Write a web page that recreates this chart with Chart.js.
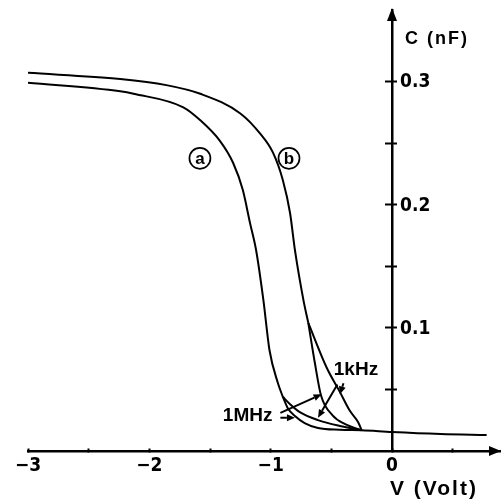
<!DOCTYPE html>
<html>
<head>
<meta charset="utf-8">
<script src="https://cdn.jsdelivr.net/npm/chart.js@4.4.0/dist/chart.umd.min.js"></script>
<style>
  html, body { margin: 0; padding: 0; background: #fff; }
</style>
</head>
<body>
<canvas id="cv" width="502" height="500"></canvas>
<script>
// curve (a): common part down to where the 1 MHz / 1 kHz traces split
const aVolt = [-3.0, -2.24, -2.13, -1.72, -1.58, -1.42, -1.31, -1.23, -1.17, -1.12, -1.06, -1.01, -0.94, -0.90];
const aCap  = [0.299, 0.292, 0.290, 0.279, 0.2685, 0.252, 0.234, 0.212, 0.185, 0.163, 0.1225, 0.082, 0.055, 0.044];
// (a) 1 MHz branch, carries on into the common tail
const aMHzVolt = [-0.90, -0.86, -0.80, -0.72, -0.61, -0.43, -0.25, 0.0, 0.40, 0.78];
const aMHzCap  = [0.044, 0.035, 0.0284, 0.0227, 0.0187, 0.0172, 0.0168, 0.0154, 0.0138, 0.013];
// (a) 1 kHz branch
const aKHzVolt = [-0.90, -0.84, -0.76, -0.61, -0.43, -0.25];
const aKHzCap  = [0.044, 0.038, 0.0316, 0.0251, 0.0203, 0.0168];

// curve (b)
const bVolt = [-3.0, -2.24, -1.86, -1.58, -1.25, -1.09, -0.98, -0.90, -0.84, -0.80, -0.73, -0.69];
const bCap  = [0.307, 0.302, 0.297, 0.290, 0.274, 0.258, 0.242, 0.220, 0.193, 0.163, 0.1225, 0.104];
const bMHzVolt = [-0.69, -0.635, -0.585, -0.49, -0.39, -0.25];
const bMHzCap  = [0.104, 0.071, 0.045, 0.029, 0.022, 0.0168];
const bKHzVolt = [-0.69, -0.54, -0.43, -0.35, -0.28, -0.25];
const bKHzCap  = [0.104, 0.068, 0.048, 0.033, 0.0235, 0.0168];

// axis ticks
const xMin = -3, xMax = 0.89, xStep = 0.5;
const yMin = 0, yMax = 0.358, yStep = 0.05, yTop = 0.3;

const tickFont = { family: "'Liberation Sans Narrow', 'DejaVu Sans Condensed', sans-serif", size: 19, weight: 'bold' };

function pts(v, c) {
  return v.map((x, i) => ({ x: x, y: c[i] }));
}
function curve(v, c) {
  return {
    data: pts(v, c),
    borderColor: '#000',
    borderWidth: 2,
    pointRadius: 0,
    fill: false,
    cubicInterpolationMode: 'monotone'
  };
}
function keepTicks(scale) {
  scale.ticks = scale.ticks.filter(t => t.value > 0.01 && t.value < yTop + 0.01);
}

const annotate = {
  id: 'annotate',
  afterDraw(chart) {
    const { ctx, chartArea } = chart;
    const xs = chart.scales.x, ys = chart.scales.y;
    const px = v => xs.getPixelForValue(v);
    const py = c => ys.getPixelForValue(c);
    const x0 = px(0), y0 = py(0);

    ctx.save();
    ctx.fillStyle = '#000';
    ctx.strokeStyle = '#000';

    function tri(ax, ay, bx, by, cx, cy) {
      ctx.beginPath();
      ctx.moveTo(ax, ay); ctx.lineTo(bx, by); ctx.lineTo(cx, cy);
      ctx.closePath();
      ctx.fill();
    }
    // axis arrowheads
    tri(x0, chartArea.top - 2, x0 - 5, chartArea.top + 11, x0 + 5, chartArea.top + 11);
    tri(chartArea.right + 1, y0, chartArea.right - 11, y0 - 5, chartArea.right - 11, y0 + 5);

    // y tick labels sit to the right of the axis
    ctx.textBaseline = 'middle';
    ctx.textAlign = 'left';
    ctx.font = `${tickFont.weight} ${tickFont.size}px ${tickFont.family}`;
    ys.ticks.forEach(t => {
      if (t.label) ctx.fillText(t.label, x0 + 8, py(t.value) + 1);
    });

    // axis titles
    ctx.font = "bold 18px 'Liberation Sans', Arial, sans-serif";
    ctx.letterSpacing = '2px';
    ctx.fillText('C (nF)', x0 + 13, chartArea.top + 29);
    ctx.font = "bold 21px 'Liberation Sans', Arial, sans-serif";
    ctx.letterSpacing = '2px';
    ctx.fillText('V (Volt)', x0 - 2, y0 + 38);
    ctx.letterSpacing = '0px';

    // circled curve names
    ctx.lineWidth = 1.7;
    ctx.textAlign = 'center';
    ctx.font = "bold 17px 'Liberation Sans', Arial, sans-serif";
    [['a', -1.583, 0.2376], ['b', -0.849, 0.2376]].forEach(([t, v, c]) => {
      ctx.beginPath();
      ctx.arc(px(v), py(c), 10.5, 0, Math.PI * 2);
      ctx.stroke();
      ctx.fillText(t, px(v), py(c) + 1);
    });

    // frequency labels
    ctx.font = "bold 19px 'Liberation Sans', Arial, sans-serif";
    ctx.fillText('1kHz', px(-0.297), py(0.066));
    ctx.fillText('1MHz', px(-1.19), py(0.029));

    // arrows
    ctx.lineWidth = 2;
    [
      [-0.92, 0.031, -0.58, 0.046],
      [-0.92, 0.027, -0.80, 0.027],
      [-0.45, 0.054, -0.61, 0.027],
      [-0.40, 0.055, -0.43, 0.046]
    ].forEach(([v1, c1, v2, c2]) => {
      const x1 = px(v1), y1 = py(c1), x2 = px(v2), y2 = py(c2);
      const ang = Math.atan2(y2 - y1, x2 - x1);
      const hl = 8, hw = 3.5;
      const bx = x2 - hl * Math.cos(ang), by = y2 - hl * Math.sin(ang);
      ctx.beginPath();
      ctx.moveTo(x1, y1); ctx.lineTo(bx, by);
      ctx.stroke();
      tri(x2, y2,
        bx + hw * Math.sin(ang), by - hw * Math.cos(ang),
        bx - hw * Math.sin(ang), by + hw * Math.cos(ang));
    });
    ctx.restore();
  }
};

new Chart(document.getElementById('cv'), {
  type: 'line',
  data: {
    datasets: [
      curve(aVolt, aCap),
      curve(aMHzVolt, aMHzCap),
      curve(aKHzVolt, aKHzCap),
      curve(bVolt, bCap),
      curve(bMHzVolt, bMHzCap),
      curve(bKHzVolt, bKHzCap)
    ]
  },
  options: {
    responsive: false,
    animation: false,
    layout: { padding: { left: 28, right: 2, top: 10, bottom: 49 } },
    plugins: { legend: { display: false }, tooltip: { enabled: false } },
    scales: {
      x: {
        type: 'linear',
        position: { y: 0 },
        min: xMin, max: xMax,
        ticks: {
          stepSize: xStep,
          includeBounds: false,
          autoSkip: false,
          maxRotation: 0,
          padding: 8,
          color: '#000',
          font: tickFont,
          callback: v => Number.isInteger(v) ? (v < 0 ? '\u2212' + Math.abs(v) : String(v)) : ''
        },
        grid: { drawOnChartArea: false, tickLength: -4, tickWidth: 2, tickColor: '#000' },
        border: { color: '#000', width: 2.5 }
      },
      y: {
        type: 'linear',
        position: { x: 0 },
        min: yMin, max: yMax,
        afterBuildTicks: keepTicks,
        ticks: {
          stepSize: yStep,
          includeBounds: false,
          padding: -36,
          color: 'rgba(0,0,0,0)',
          font: tickFont,
          callback: v => {
            const r = Math.round(v * 100);
            return r % 10 === 0 ? (r / 100).toFixed(1) : '';
          }
        },
        grid: { drawOnChartArea: false, tickLength: 6, tickWidth: 2, tickColor: '#000' },
        border: { color: '#000', width: 2.5 }
      },
      y2: {
        type: 'linear',
        axis: 'y',
        position: { x: 0 },
        min: yMin, max: yMax,
        afterBuildTicks: keepTicks,
        ticks: { stepSize: yStep, includeBounds: false, display: false },
        grid: { drawOnChartArea: false, tickLength: -5, tickWidth: 2, tickColor: '#000' },
        border: { display: false }
      }
    }
  },
  plugins: [annotate]
});
</script>
</body>
</html>
